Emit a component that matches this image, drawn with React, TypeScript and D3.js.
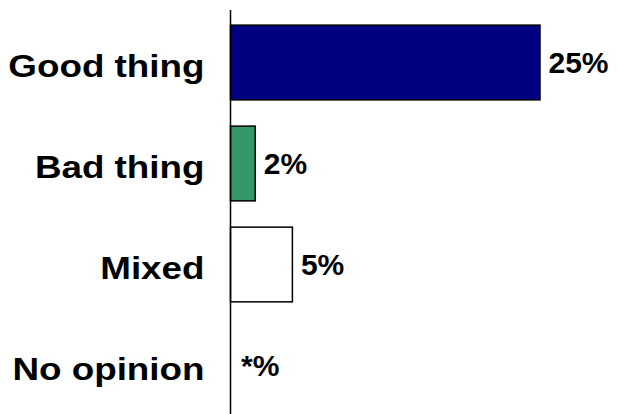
import React from "react";
import * as d3 from "d3";

const categories = ["Good thing", "Bad thing", "Mixed", "No opinion"];
const values = [25, 2, 5, 0];
const valueLabels = ["25%", "2%", "5%", "*%"];
const colors = ["#000080", "#339966", "#ffffff", "#ffffff"];

const W = 618;
const H = 414;

export default function App() {
  const x = d3.scaleLinear().domain([0, 25]).range([230.5, 540]);
  const y = d3
    .scaleBand<string>()
    .domain(categories)
    .range([12, 416])
    .paddingInner(0.26)
    .paddingOuter(0.13);
  const font = "'Liberation Sans', Arial, sans-serif";
  const sx = 1.15;
  return (
    <svg
      width={W}
      height={H}
      style={{ position: "absolute", left: 0, top: 0, background: "#fff" }}
    >
      {categories.map((c, i) => {
        const y0 = y(c)!;
        const bw = y.bandwidth();
        return (
          <g key={c}>
            {values[i] > 0 && (
              <rect
                x={x(0)}
                y={y0}
                width={x(values[i]) - x(0)}
                height={bw}
                fill={colors[i]}
                stroke="#000"
                strokeWidth={1.5}
              />
            )}
            <g transform={`translate(204.5,${y0 + bw / 2}) scale(${sx},1)`}>
              <text
                x={0}
                y={0}
                dy="0.44em"
                textAnchor="end"
                fontFamily={font}
                fontWeight="bold"
                fontSize={32}
                fill="#000"
              >
                {c}
              </text>
            </g>
            <text
              x={x(values[i]) + (values[i] > 0 ? 8.5 : 10.5)}
              y={y0 + bw / 2}
              dy="0.36em"
              textAnchor="start"
              fontFamily={font}
              fontWeight="bold"
              fontSize={30}
              fill="#000"
            >
              {valueLabels[i]}
            </text>
          </g>
        );
      })}
      <line x1={230.5} x2={230.5} y1={10} y2={414} stroke="#000" strokeWidth={1.5} />
    </svg>
  );
}
